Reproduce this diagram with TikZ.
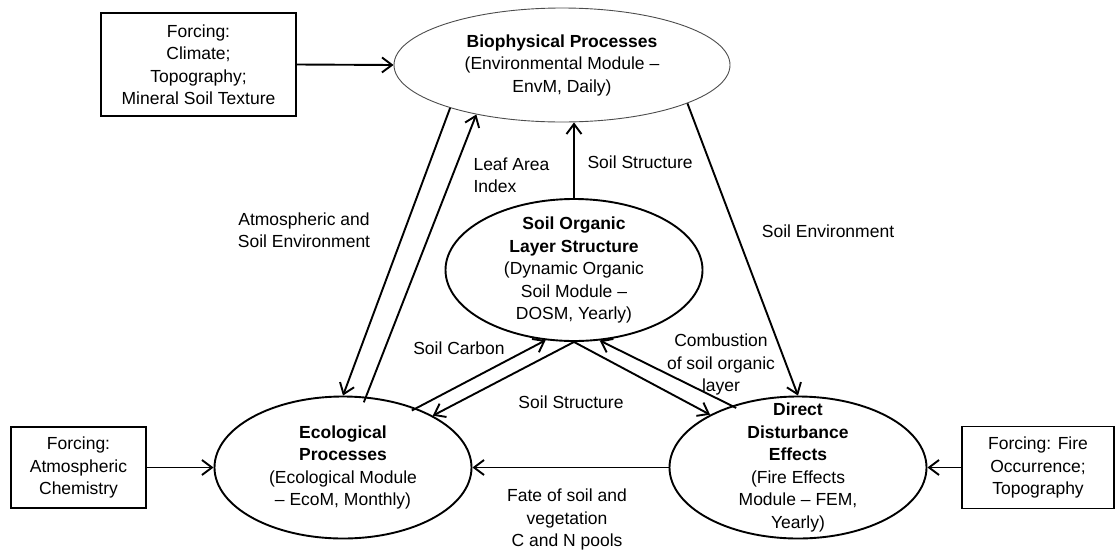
\documentclass[tikz,border=0pt]{standalone}
\usepackage{fontspec}
\setmainfont{Liberation Sans}
\usetikzlibrary{shapes.geometric,arrows.meta}

\begin{document}
\begin{tikzpicture}[x=1pt,y=-1pt]
    \tikzset{module/.style={ellipse, draw=black, line width=1.9pt, inner sep=0pt, minimum width=257pt, minimum height=142pt}}
    \tikzset{forcing/.style={rectangle, draw=black, line width=1.4pt, inner sep=0pt, align=center}}
    \tikzset{txt/.style={align=center, font=\fontsize{17.5}{22.5}\selectfont}}
    \tikzset{flow/.style={line width=1.9pt, -{Straight Barb[length=10pt,width=15pt]}}}

    \useasboundingbox (0,0) rectangle (1116,555);

    % ── MODULES ──────────────────────────────────────────
    \node[module, draw=gray!60!black, line width=0.9pt, minimum width=336pt, minimum height=114pt,
          label={[txt]center:{\textbf{Biophysical Processes}\\(Environmental Module –\\EnvM, Daily)}}] (bio) at (562,65) {};
    \node[module, label={[txt]center:{\textbf{Soil Organic}\\\textbf{Layer Structure}\\(Dynamic Organic\\Soil Module –\\DOSM, Yearly)}}] (soil) at (574,270) {};
    \node[module, label={[txt]center:{\textbf{Ecological}\\\textbf{Processes}\\(Ecological Module\\– EcoM, Monthly)}}] (eco) at (343,467.5) {};
    \node[module, label={[txt]center:{\textbf{Direct}\\\textbf{Disturbance}\\\textbf{Effects}\\(Fire Effects\\Module – FEM,\\Yearly)}}] (dde) at (798,467.5) {};

    % ── FORCING ──────────────────────────────────────────
    \node[forcing, txt, minimum width=195pt, minimum height=103pt] (fclim) at (198.5,64.5) {Forcing:\\Climate;\\Topography;\\Mineral Soil Texture};
    \node[forcing, txt, minimum width=135pt, minimum height=81pt] (fatm) at (78.5,467.5) {Forcing:\\Atmospheric\\Chemistry};
    \node[forcing, txt, minimum width=152pt, minimum height=82pt] (ffire) at (1038,467.5) {Forcing: Fire\\Occurrence;\\Topography};

    % ── FLUSSI ───────────────────────────────────────────
    \draw[flow] (fclim.east) -- (bio.west);
    \draw[flow] (fatm.east) -- (eco.west);
    \draw[flow] (ffire.west) -- (dde.east);
    \draw[flow] (dde.west) -- (eco.east);
    \draw[flow] (soil.north) -- (soil.north |- bio.south);
    \draw[flow] (bio.201) -- (eco.north);
    \draw[flow, shorten <=-6pt] (eco.72) -- (bio.210);
    \draw[flow] (bio.343) -- (dde.north);
    \draw[flow, shorten <=-5pt] (eco.39) -- (soil.248);
    \draw[flow] (soil.south) -- (eco.30);
    \draw[flow] (soil.south) -- (dde.149);
    \draw[flow, shorten <=-5pt] (dde.137) -- (soil.290);

    % Etichette
    \node[txt, align=left, anchor=west] (llai) at (470,175) {Leaf Area\\Index};
    \node[txt, anchor=west] (lstr1) at (584,162) {Soil Structure};
    \node[txt] (latm) at (304,230) {Atmospheric and\\Soil Environment};
    \node[txt] (lenv) at (828,231) {Soil Environment};
    \node[txt] (lcarb) at (459,348) {Soil Carbon};
    \node[txt] (lstr2) at (571,402) {Soil Structure};
    \node[txt] (lcomb) at (721,364.5) {Combustion\\of soil organic\\layer};
    \node[txt] (lfate) at (567,519.5) {Fate of soil and\\vegetation\\C and N pools};

\end{tikzpicture}
\end{document}
